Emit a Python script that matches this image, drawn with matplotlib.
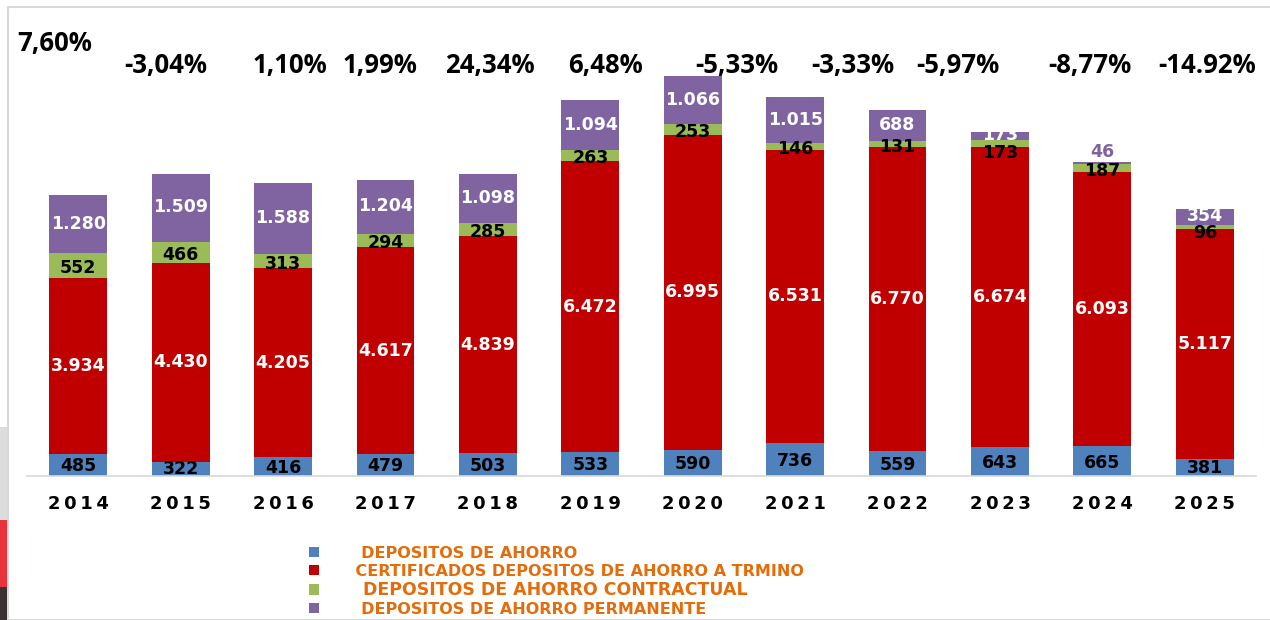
import matplotlib.pyplot as plt
from matplotlib.patches import Rectangle
import numpy as np

years = ['2014', '2015', '2016', '2017', '2018', '2019', '2020', '2021', '2022', '2023', '2024', '2025']
ahorro = [485, 322, 416, 479, 503, 533, 590, 736, 559, 643, 665, 381]
cdat = [3934, 4430, 4205, 4617, 4839, 6472, 6995, 6531, 6770, 6674, 6093, 5117]
contractual = [552, 466, 313, 294, 285, 263, 253, 146, 131, 173, 187, 96]
permanente = [1280, 1509, 1588, 1204, 1098, 1094, 1066, 1015, 688, 173, 46, 354]
growth = ['7,60%', '-3,04%', '1,10%', '1,99%', '24,34%', '6,48%', '-5,33%', '-3,33%',
          '-5,97%', '-8,77%', '-14.92%']
series_names = ['     DEPOSITOS DE AHORRO',
                '    CERTIFICADOS DEPOSITOS DE AHORRO A TRMINO',
                '     DEPOSITOS DE AHORRO CONTRACTUAL',
                '     DEPOSITOS DE AHORRO PERMANENTE']

colors = ['#4F81BD', '#C00000', '#9BBB59', '#8064A2']
orange = '#E46C0A'

# where the growth labels sit (x in bar units), they float loosely above the bars
growth_x = [-0.23, 0.85, 2.07, 2.95, 4.02, 5.15, 6.43, 7.56, 8.59, 9.88, 11.02]
growth_y = [9640] + [9150] * 10

def fmt(v):
    return f'{v:,}'.replace(',', '.')

fig = plt.figure(figsize=(12.7, 6.2), dpi=100)
W, H = 1270, 620
ax = fig.add_axes([27 / W, 1 - 476 / H, 1229 / W, 468 / H])

x = np.arange(len(years))
width = 0.565
data = [ahorro, cdat, contractual, permanente]
bottom = np.zeros(len(years))
bars = []
for vals, col, name in zip(data, colors, series_names):
    ax.bar(x, vals, width, bottom=bottom, color=col, label=name, zorder=2)
    bars.append((vals, bottom.copy()))
    bottom += np.array(vals)

lab_font = dict(fontsize=12.5, fontweight='bold', family='DejaVu Sans', ha='center', va='center')
for i in x:
    # blue
    v, b0 = bars[0][0][i], bars[0][1][i]
    ax.text(i, b0 + v * 0.45, fmt(v), color='black', **lab_font)
    # red
    v, b0 = bars[1][0][i], bars[1][1][i]
    ax.text(i, b0 + v / 2, fmt(v), color='white', **lab_font)
    # green (pushed down when the purple label above is squeezed too)
    v, b0 = bars[2][0][i], bars[2][1][i]
    if 100 <= permanente[i] < 300:
        off = -220
    elif v < 100:
        off = -130
    else:
        off = -60
    ax.text(i, b0 + v / 2 + off, fmt(v), color='black', **lab_font)
    # purple
    v, b0 = bars[3][0][i], bars[3][1][i]
    if v < 100:
        ax.text(i, b0 + v + 220, fmt(v), color=colors[3], **lab_font)
    else:
        ax.text(i, b0 + v / 2 + 10, fmt(v), color='white', **lab_font)

for gx, gy, g in zip(growth_x, growth_y, growth):
    ax.text(gx, gy, g, fontsize=18.5, fontweight='bold', family='Open Sans',
            ha='center', va='center', color='black')

ax.set_xlim(-0.5, len(years) - 0.5)
ax.set_ylim(0, 10420)
ax.set_xticks(x)
ax.set_xticklabels(['\u2009'.join(y) for y in years], fontsize=13, fontweight='bold',
                   family='DejaVu Sans')
ax.tick_params(axis='x', length=0, pad=14)
ax.set_yticks([])
for s in ['top', 'right', 'left']:
    ax.spines[s].set_visible(False)
ax.spines['bottom'].set_color('#D9D9D9')
ax.spines['bottom'].set_linewidth(1.2)

leg = ax.legend(loc='upper left', bbox_to_anchor=(309 / W, 1 - 546 / H),
                bbox_transform=fig.transFigure, frameon=False, ncol=1,
                handlelength=0.6, handleheight=0.6, handletextpad=0.9,
                labelspacing=0.16, borderpad=0, borderaxespad=0,
                prop={'weight': 'bold', 'size': 11.5, 'family': 'DejaVu Sans'})
for t, sz in zip(leg.get_texts(), [11.5, 11.5, 12.5, 11.5]):
    t.set_color(orange)
    t.set_fontsize(sz)

# slide frame and strip on the left edge
fig.add_artist(Rectangle((8 / W, 0), 1, 1 - 7 / H, transform=fig.transFigure,
                         fill=False, edgecolor='#D9D9D9', linewidth=1.5))
fig.add_artist(Rectangle((0, 1 - 520 / H), 7 / W, 93 / H, transform=fig.transFigure,
                         color='#DCDCDC', linewidth=0))
fig.add_artist(Rectangle((0, 1 - 587 / H), 7 / W, 67 / H, transform=fig.transFigure,
                         color='#E8333C', linewidth=0))
fig.add_artist(Rectangle((0, 0), 7 / W, 33 / H, transform=fig.transFigure,
                         color='#3A3232', linewidth=0))

fig.savefig('out.png', dpi=100)
